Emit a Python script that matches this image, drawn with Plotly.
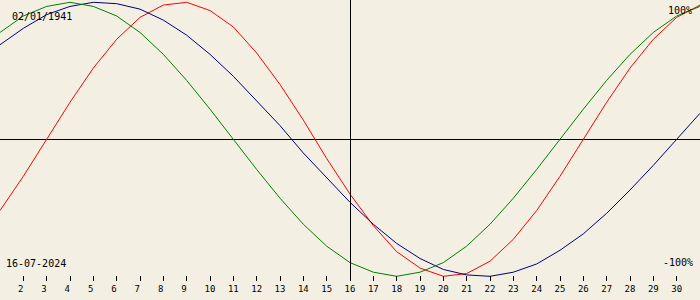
import plotly.graph_objects as go

# Days of the month (July 2024)
days = list(range(1, 32))

# Physical cycle (red), values in -1..1
physical = [-0.52, -0.27, 0.00, 0.27, 0.52, 0.73, 0.89, 0.98, 1.00, 0.94,
            0.82, 0.63, 0.40, 0.14, -0.14, -0.40, -0.63, -0.82, -0.94, -1.00,
            -0.98, -0.89, -0.73, -0.52, -0.27, 0.00, 0.27, 0.52, 0.73, 0.89, 0.98]

# Emotional cycle (green)
emotional = [0.78, 0.90, 0.97, 1.00, 0.97, 0.90, 0.78, 0.62, 0.43, 0.22,
             0.00, -0.22, -0.43, -0.62, -0.78, -0.90, -0.97, -1.00, -0.97, -0.90,
             -0.78, -0.62, -0.43, -0.22, 0.00, 0.22, 0.43, 0.62, 0.78, 0.90, 0.97]

# Intellectual cycle (blue)
intellectual = [0.69, 0.81, 0.91, 0.97, 1.00, 0.99, 0.95, 0.87, 0.76, 0.62,
                0.46, 0.28, 0.10, -0.10, -0.28, -0.46, -0.62, -0.76, -0.87, -0.95,
                -0.99, -1.00, -0.97, -0.91, -0.81, -0.69, -0.54, -0.37, -0.19, 0.00, 0.19]

tick_days = list(range(2, 31))
tick_text = [(f"{d}\u00a0" if d < 10 else str(d)) for d in tick_days]

birth_label = "02/01/1941"
date_label = "16-07-2024"
today = 16
top_label = "100%"
bottom_label = "-100%"

W, H = 700, 300
BG = "#F3EFE3"
FONT = "DejaVu Sans Mono"

fig = go.Figure()
fig.add_trace(go.Scatter(x=days, y=physical, mode="lines",
                         line=dict(color="#FF0000", width=1), hoverinfo="skip"))
fig.add_trace(go.Scatter(x=days, y=intellectual, mode="lines",
                         line=dict(color="#000080", width=1), hoverinfo="skip"))
fig.add_trace(go.Scatter(x=days, y=emotional, mode="lines",
                         line=dict(color="#008000", width=1), hoverinfo="skip"))

# y mapping: +1 -> ~2px, -1 -> ~276px, zero near 139.5px
ymax = 1 + 2.3 / 137
ymin = ymax - H / 137

# half-pixel offset so the 1px line is crisp
px_per_day = W / 30
fig.add_shape(type="line", xref="x", yref="paper",
              x0=today + 0.5 / px_per_day, x1=today + 0.5 / px_per_day,
              y0=1 - 280 / H, y1=1, line=dict(color="black", width=1))

def px2paper(px, py):
    return px / W, 1 - py / H

annots = [
    (birth_label, 10, 17, "left"),
    (date_label, 4, 263, "left"),
    (top_label, 694, 11, "right"),
    (bottom_label, 695, 262, "right"),
]
for text, px, py, anchor in annots:
    ax, ay = px2paper(px, py)
    fig.add_annotation(text=text, x=ax, y=ay, xref="paper", yref="paper",
                       xanchor=anchor, yanchor="middle", showarrow=False,
                       font=dict(family=FONT, size=10, color="black"))

fig.update_layout(
    width=W, height=H,
    margin=dict(l=0, r=0, t=0, b=0),
    paper_bgcolor=BG, plot_bgcolor=BG,
    showlegend=False,
    xaxis=dict(range=[1, 31], tickvals=tick_days, ticktext=tick_text,
               ticks="outside", ticklen=5, tickwidth=1, tickcolor="black",
               showgrid=False, zeroline=False, showline=False,
               anchor="free", position=1 - 275 / H,
               tickfont=dict(family=FONT, size=9, color="black"),
               fixedrange=True),
    yaxis=dict(range=[ymin, ymax], showticklabels=False, showgrid=False,
               zeroline=True, zerolinecolor="black", zerolinewidth=1,
               showline=False, ticks="", fixedrange=True),
)

fig.write_html("out.html")
